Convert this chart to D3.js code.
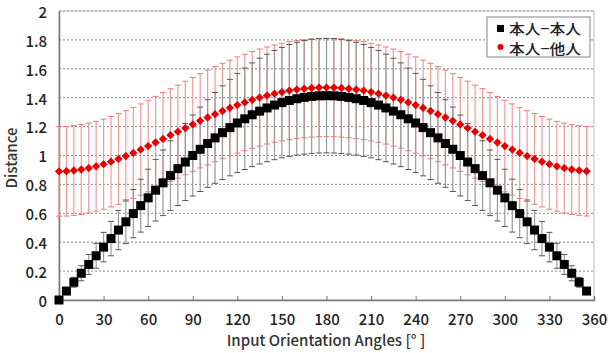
<!DOCTYPE html>
<html>
<head>
<meta charset="utf-8">
<script src="https://cdn.jsdelivr.net/npm/d3@7"></script>
<style>
  body { margin: 0; background: #fff; }
  svg { display: block; font-family: "Noto Sans CJK JP", "Liberation Sans", sans-serif; }
  .grid line { stroke: #666; stroke-dasharray: 2,2; stroke-width: 0.8; }
  .tick text { fill: #222; font-family: "Noto Sans CJK JP", "Liberation Sans", sans-serif; }
</style>
</head>
<body>
<svg id="chart" width="608" height="353"></svg>
<script>
// angles 0..355 step 5
const angles = d3.range(0, 360, 5);

// 本人-本人 (mean, sd)
const selfMean = [0, 0.062, 0.123, 0.185, 0.246, 0.306, 0.366, 0.425, 0.484, 0.541, 0.598, 0.653,
  0.707, 0.760, 0.811, 0.861, 0.909, 0.955, 1.000, 1.043, 1.083, 1.122, 1.158, 1.193,
  1.225, 1.254, 1.282, 1.307, 1.329, 1.349, 1.366, 1.381, 1.393, 1.402, 1.409, 1.413,
  1.414, 1.413, 1.409, 1.402, 1.393, 1.381, 1.366, 1.349, 1.329, 1.307, 1.282, 1.254,
  1.225, 1.193, 1.158, 1.122, 1.083, 1.043, 1.000, 0.955, 0.909, 0.861, 0.811, 0.760,
  0.707, 0.653, 0.598, 0.541, 0.484, 0.425, 0.366, 0.306, 0.246, 0.185, 0.123, 0.062];
const selfErr = [0, 0.017, 0.034, 0.052, 0.069, 0.086, 0.102, 0.119, 0.136, 0.151, 0.167, 0.183,
  0.198, 0.213, 0.227, 0.241, 0.255, 0.267, 0.280, 0.292, 0.303, 0.314, 0.324, 0.334,
  0.343, 0.351, 0.359, 0.366, 0.372, 0.378, 0.382, 0.387, 0.390, 0.393, 0.395, 0.396,
  0.396, 0.396, 0.395, 0.393, 0.390, 0.387, 0.382, 0.378, 0.372, 0.366, 0.359, 0.351,
  0.343, 0.334, 0.324, 0.314, 0.303, 0.292, 0.280, 0.267, 0.255, 0.241, 0.227, 0.213,
  0.198, 0.183, 0.167, 0.151, 0.136, 0.119, 0.102, 0.086, 0.069, 0.052, 0.034, 0.017];

// 本人-他人 (mean, sd)
const otherMean = [0.890, 0.891, 0.896, 0.903, 0.913, 0.925, 0.940, 0.957, 0.976, 0.996, 1.018, 1.041,
  1.065, 1.090, 1.115, 1.141, 1.165, 1.190, 1.215, 1.240, 1.263, 1.286, 1.308, 1.329,
  1.349, 1.367, 1.385, 1.401, 1.415, 1.428, 1.439, 1.449, 1.456, 1.462, 1.467, 1.470,
  1.470, 1.470, 1.467, 1.462, 1.456, 1.449, 1.439, 1.428, 1.415, 1.401, 1.385, 1.367,
  1.349, 1.329, 1.308, 1.286, 1.263, 1.240, 1.215, 1.190, 1.165, 1.141, 1.115, 1.090,
  1.065, 1.041, 1.018, 0.996, 0.976, 0.957, 0.940, 0.925, 0.913, 0.903, 0.896, 0.891];
const otherErr = [0.310, 0.310, 0.310, 0.311, 0.311, 0.311, 0.312, 0.313, 0.314, 0.314, 0.315, 0.316,
  0.317, 0.319, 0.320, 0.321, 0.322, 0.324, 0.325, 0.326, 0.328, 0.329, 0.330, 0.331,
  0.333, 0.334, 0.335, 0.336, 0.336, 0.337, 0.338, 0.339, 0.339, 0.339, 0.340, 0.340,
  0.340, 0.340, 0.340, 0.339, 0.339, 0.339, 0.338, 0.337, 0.336, 0.336, 0.335, 0.334,
  0.333, 0.331, 0.330, 0.329, 0.328, 0.326, 0.325, 0.324, 0.322, 0.321, 0.320, 0.319,
  0.317, 0.316, 0.315, 0.314, 0.314, 0.313, 0.312, 0.311, 0.311, 0.311, 0.310, 0.310];

const xTicks = d3.range(0, 361, 30);
const yTicks = [0, 0.2, 0.4, 0.6, 0.8, 1, 1.2, 1.4, 1.6, 1.8, 2];
const seriesNames = ['本人−本人', '本人−他人'];

const svg = d3.select('#chart');
const L = 59, R = 594, T = 11, B = 300;
const x = d3.scaleLinear().domain([0, 360]).range([L, R]);
const y = d3.scaleLinear().domain([0, 2]).range([B, T]);

// grid
svg.append('g').attr('class', 'grid').selectAll('line')
  .data(yTicks.filter(v => v > 0)).enter().append('line')
  .attr('x1', L).attr('x2', R).attr('y1', d => y(d)).attr('y2', d => y(d));

// frame
svg.append('rect').attr('x', L).attr('y', T).attr('width', R - L).attr('height', B - T)
  .attr('fill', 'none').attr('stroke', '#bbb').attr('stroke-width', 1);

// axes
const xAxis = svg.append('g').attr('transform', `translate(0,${B})`)
  .call(d3.axisBottom(x).tickValues(xTicks).tickSize(-4).tickPadding(14).tickFormat(d3.format('d')));
xAxis.select('.domain').attr('stroke', '#777').attr('stroke-width', 1.5);
xAxis.selectAll('.tick line').attr('stroke', '#777');
xAxis.selectAll('.tick text').attr('font-size', 15).attr('font-weight', 500);

const yAxis = svg.append('g').attr('transform', `translate(${L},0)`)
  .call(d3.axisLeft(y).tickValues(yTicks).tickSize(0).tickPadding(12).tickFormat(d => d3.format('')(d)));
yAxis.select('.domain').attr('stroke', '#777').attr('stroke-width', 1.5);
yAxis.selectAll('.tick text').attr('font-size', 15).attr('font-weight', 500).attr('dy', '0.42em');

// titles
svg.append('text').attr('x', 326).attr('y', 346).attr('text-anchor', 'middle')
  .attr('font-size', 15).attr('font-weight', 500).attr('fill', '#333').text('Input Orientation Angles [°  ]');
svg.append('text').attr('transform', 'translate(17,158) rotate(-90)').attr('text-anchor', 'middle')
  .attr('font-size', 15).attr('font-weight', 500).attr('fill', '#333').text('Distance');

// error bars
function errorBars(mean, err, color, capColor, cls) {
  const g = svg.append('g').attr('class', cls);
  const data = angles.map((a, i) => ({ a, lo: mean[i] - err[i], hi: mean[i] + err[i] }))
    .filter(d => d.hi - d.lo > 0);
  g.selectAll('line.v').data(data).enter().append('line')
    .attr('x1', d => x(d.a)).attr('x2', d => x(d.a))
    .attr('y1', d => y(d.lo)).attr('y2', d => y(d.hi))
    .attr('stroke', color).attr('stroke-width', 1.2);
  ['lo', 'hi'].forEach(k => {
    g.selectAll('line.' + k).data(data).enter().append('line')
      .attr('x1', d => x(d.a) - 3).attr('x2', d => x(d.a) + 3)
      .attr('y1', d => y(d[k])).attr('y2', d => y(d[k]))
      .attr('stroke', capColor).attr('stroke-width', 1);
  });
}
errorBars(otherMean, otherErr, '#f29a9a', '#e77', 'err-other');
errorBars(selfMean, selfErr, '#999', '#555', 'err-self');

// markers
svg.append('g').selectAll('rect').data(angles).enter().append('rect')
  .attr('x', (d) => x(d) - 4.5).attr('y', (d, i) => y(selfMean[i]) - 4.5)
  .attr('width', 9).attr('height', 9).attr('fill', '#000');

const diamond = d3.symbol().type(d3.symbolDiamond2).size(44);
svg.append('g').selectAll('path').data(angles).enter().append('path')
  .attr('d', diamond)
  .attr('transform', (d, i) => `translate(${x(d)},${y(otherMean[i])})`)
  .attr('fill', '#e60000');

// legend
const lg = svg.append('g').attr('transform', 'translate(487,17)');
lg.append('rect').attr('width', 103).attr('height', 40)
  .attr('fill', '#fff').attr('stroke', '#999').attr('stroke-width', 1.2);
lg.append('rect').attr('x', 10).attr('y', 8).attr('width', 7).attr('height', 7).attr('fill', '#000');
lg.append('circle').attr('cx', 13.5).attr('cy', 30).attr('r', 3).attr('fill', '#e60000');
lg.selectAll('text').data(seriesNames).enter().append('text')
  .attr('x', 22).attr('y', (d, i) => 17 + i * 20)
  .attr('font-size', 14).attr('font-weight', 500).attr('fill', '#222')
  .attr('textLength', 72).attr('lengthAdjust', 'spacingAndGlyphs').text(d => d);
</script>
</body>
</html>
